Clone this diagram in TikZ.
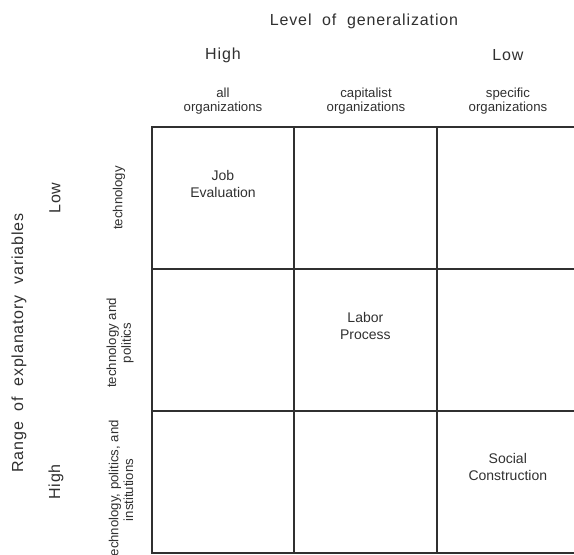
\documentclass[tikz,border=0pt]{standalone}
\usepackage{fontspec}
\setmainfont{Liberation Sans}
\newfontfamily\headfont[LetterSpace=5.5,WordSpace=2]{Liberation Sans}
\usetikzlibrary{positioning}
\definecolor{ink}{RGB}{48, 48, 48}
\tikzset{
  cell/.style     = {shape=rectangle, draw=ink, line width=1pt,
                     inner sep=0pt, outer sep=0pt,
                     minimum width=71.2pt, minimum height=71pt},
  axis/.style     = {font=\headfont\fontsize{8}{9.6}\selectfont, text=ink},
  sublabel/.style = {font=\fontsize{6.6}{7.4}\selectfont, align=center, text=ink},
  entry/.style    = {font=\fontsize{7}{8.5}\selectfont, align=center, text=ink}
}

\begin{document}
\begin{tikzpicture}[x=0.5pt, y=-0.5pt]
  \useasboundingbox (0,0) rectangle (574,554);
  \clip (0,0) rectangle (574,554);
  % the 3x3 grid
  \node [cell] (c11) at (223,198) {};
  \node [cell] (c12) [right=0pt of c11] {};
  \node [cell] (c13) [right=0pt of c12] {};
  \node [cell] (c21) [below=0pt of c11] {};
  \node [cell] (c22) [right=0pt of c21] {};
  \node [cell] (c23) [right=0pt of c22] {};
  \node [cell] (c31) [below=0pt of c21] {};
  \node [cell] (c32) [right=0pt of c31] {};
  \node [cell] (c33) [right=0pt of c32] {};
  % approaches on the diagonal
  \node [entry] (job) at ([yshift=7pt]c11.center) {Job\\Evaluation};
  \node [entry] (labor) at ([yshift=7pt]c22.center) {Labor\\Process};
  \node [entry] (social) at ([yshift=7.5pt]c33.center) {Social\\Construction};
  % columns
  \node [axis] (gen) at (364,21) {Level of generalization};
  \node [axis] (genhigh) at (223,55) {High};
  \node [axis] (genlow) at (508,55) {Low};
  \node [sublabel] (allorg) at (223,101) {all\\organizations};
  \node [sublabel] (caporg) at (366,101) {capitalist\\organizations};
  \node [sublabel] (specorg) at (508,101) {specific\\organizations};
  % rows
  \node [axis, rotate=90] (range) at (19,343) {Range of explanatory variables};
  \node [axis, rotate=90] (rangelow) at (55,198) {Low};
  \node [axis, rotate=90] (rangehigh) at (56,482) {High};
  \node [sublabel, rotate=90] (tech) at (119,198) {technology};
  \node [sublabel, rotate=90] (techpol) at (120,343) {technology and\\politics};
  \node [sublabel, rotate=90] (techinst) at (121,490) {technology, politics, and\\institutions};
\end{tikzpicture}
\end{document}
